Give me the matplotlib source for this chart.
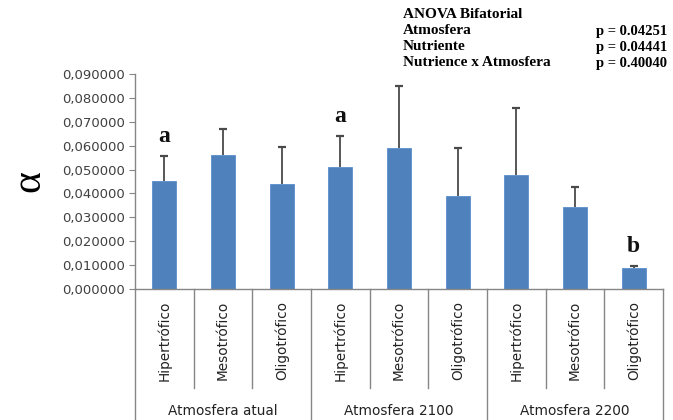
import matplotlib
matplotlib.use('Agg')
import matplotlib.pyplot as plt
import matplotlib.transforms as mtransforms

# dados
grupos = ['Atmosfera atual', 'Atmosfera 2100', 'Atmosfera 2200']
nutrientes = ['Hipertrófico', 'Mesotrófico', 'Oligotrófico']
medias = [0.0452, 0.0562, 0.0440, 0.0512, 0.0589, 0.0390, 0.0478, 0.0344, 0.0087]
erros = [0.0104, 0.0109, 0.0154, 0.0128, 0.0260, 0.0199, 0.0278, 0.0084, 0.0010]
letras = {0: 'a', 3: 'a', 8: 'b'}
letras_y = [0.0640, 0.0720, 0.0180]
yticks = [i * 0.01 for i in range(10)]
anova_rotulos = ['Atmosfera', 'Nutriente', 'Nutrience x Atmosfera']
anova_p = ['p = 0.04251', 'p = 0.04441', 'p = 0.40040']

fig = plt.figure(figsize=(6.73, 4.2), dpi=100)
ax = fig.add_axes([135 / 673, 1 - 289 / 420, 528 / 673, 215 / 420])

x = list(range(len(medias)))
topos = [m + e for m, e in zip(medias, erros)]
ax.bar(x, medias, width=0.41, color='#4F81BD', edgecolor='#5B8FCC', linewidth=0.6, zorder=2)
# só a barra de erro superior
ax.vlines(x, medias, topos, color='#4a4a4a', lw=1.3, zorder=3)
ax.hlines(topos, [i - 0.07 for i in x], [i + 0.07 for i in x], color='#4a4a4a', lw=1.6, zorder=3)

for (i, s), yy in zip(letras.items(), letras_y):
    ax.text(i, yy, s, ha='center', va='center', fontsize=17, fontweight='bold',
            family='Liberation Serif', color='#111111')

ax.set_xlim(-0.5, len(medias) - 0.5)
ax.set_ylim(0, 0.09)
ax.set_yticks(yticks)
ax.set_yticklabels(['{:.6f}'.format(v).replace('.', ',') for v in yticks],
                   fontsize=9.5, color='#404040')
ax.tick_params(axis='y', length=4, color='#868686', pad=3)
ax.set_xticks([])
for s in ['top', 'right']:
    ax.spines[s].set_visible(False)
for s in ['left', 'bottom']:
    ax.spines[s].set_color('#868686')
    ax.spines[s].set_linewidth(1.0)

ax.text(-0.2, 0.5, 'α', transform=ax.transAxes, rotation=90, ha='center', va='center',
        fontsize=30, family='Liberation Serif')

# eixo categórico em dois níveis
trans = mtransforms.blended_transform_factory(ax.transData, ax.transAxes)
fundo_interno = -(388 - 289) / 215
fundo = -(420 - 289) / 215
for k in range(len(medias) + 1):
    xb = k - 0.5
    y0 = fundo if k % 3 == 0 else fundo_interno
    ax.plot([xb, xb], [0, y0], transform=trans, color='#868686', lw=1.0, clip_on=False)
for i in x:
    ax.text(i, (0 + fundo_interno) / 2 - 0.01, nutrientes[i % 3], transform=trans,
            rotation=90, ha='center', va='center', fontsize=9.8, color='#222222')
for g, nome in enumerate(grupos):
    ax.text(3 * g + 1, -(411 - 289) / 215, nome, transform=trans, ha='center',
            va='center', fontsize=9.8, color='#222222')

# quadro da ANOVA
fig.text(403 / 673, 1 - 15 / 420, 'ANOVA Bifatorial', ha='left', va='center',
         fontsize=11, fontweight='bold', family='Liberation Serif')
for j, (r, p) in enumerate(zip(anova_rotulos, anova_p)):
    yy = 1 - (31 + 16 * j) / 420
    fig.text(403 / 673, yy, r, ha='left', va='center', fontsize=11,
             fontweight='bold', family='Liberation Serif')
    fig.text(596 / 673, yy, p, ha='left', va='center', fontsize=10.5,
             fontweight='bold', family='Liberation Serif')

fig.savefig('out.png', dpi=100)
